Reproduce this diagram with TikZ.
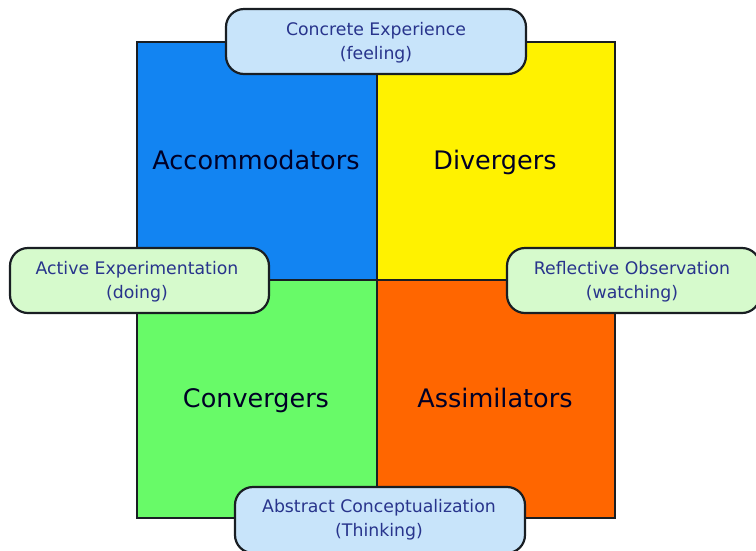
\documentclass[tikz,border=0pt]{standalone}
\usepackage{fontspec}
\setmainfont{DejaVu Sans}
\begin{document}
\definecolor{qblue}{RGB}{18,132,242}
\definecolor{qyellow}{RGB}{255,242,0}
\definecolor{qgreen}{RGB}{104,250,104}
\definecolor{qorange}{RGB}{255,102,0}
\definecolor{pillblue}{RGB}{200,228,250}
\definecolor{pillgreen}{RGB}{214,250,204}
\definecolor{pilltext}{RGB}{40,52,140}
\definecolor{edge}{RGB}{25,30,35}
\begin{tikzpicture}[x=1pt,y=-1pt,
  quad/.style={draw=edge,line width=1.6pt},
  biglabel/.style={font=\fontsize{25.5}{30}\selectfont,text=black!85!blue,anchor=base},
  pill/.style={draw=edge,line width=2.2pt,rounded corners=18pt},
  pilllabel/.style={font=\fontsize{17.3}{24}\selectfont,text=pilltext,align=center}]
\useasboundingbox (0,0) rectangle (756,550);
% the four quadrants
\fill[qblue]   (137,42) rectangle (377,280);
\fill[qyellow] (377,42) rectangle (615,280);
\fill[qgreen]  (137,280) rectangle (377,518);
\fill[qorange] (377,280) rectangle (615,518);
\draw[quad] (137,42) rectangle (615,518);
\draw[quad] (377,42) -- (377,518);
\draw[quad] (137,280) -- (615,280);
\node[biglabel] (acc) at (256,169) {Accommodators};
\node[biglabel] (div) at (495,169) {Divergers};
\node[biglabel] (con) at (256,407) {Convergers};
\node[biglabel] (ass) at (495,407) {Assimilators};
% the four learning modes
\draw[pill,fill=pillblue]  (226,9) rectangle (526,74);
\node[pilllabel] (ce) at (376,43) {Concrete Experience\\(feeling)};
\draw[pill,fill=pillgreen] (10,248) rectangle (269,313);
\node[pilllabel] (ae) at (137,282) {Active Experimentation\\(doing)};
\draw[pill,fill=pillgreen] (507,248) rectangle (760,313);
\node[pilllabel] (ro) at (632,282) {Reflective Observation\\(watching)};
\draw[pill,fill=pillblue]  (235,487) rectangle (525,553);
\node[pilllabel] (ac) at (379,520) {Abstract Conceptualization\\(Thinking)};
\end{tikzpicture}
\end{document}
